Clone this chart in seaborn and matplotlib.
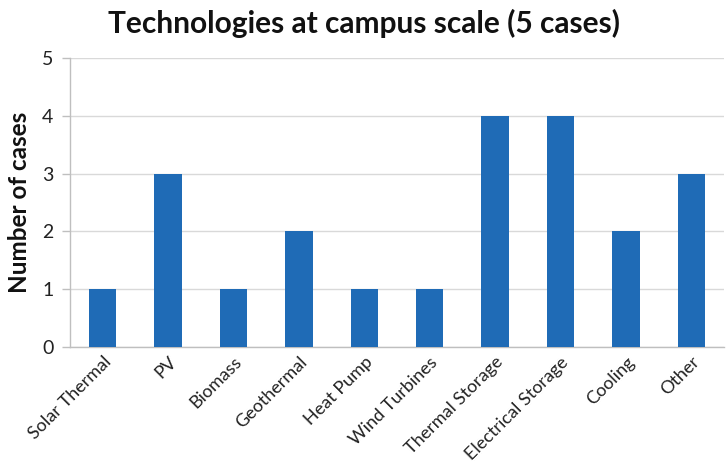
import matplotlib
matplotlib.use("Agg")
import matplotlib.pyplot as plt
import seaborn as sns
import pandas as pd

categories = ["Solar Thermal", "PV", "Biomass", "Geothermal", "Heat Pump",
              "Wind Turbines", "Thermal Storage", "Electrical Storage", "Cooling", "Other"]
cases = [1, 3, 1, 2, 1, 1, 4, 4, 2, 3]
y_ticks = [0, 1, 2, 3, 4, 5]

sns.set_theme(style="white")
plt.rcParams["font.family"] = ["Lato", "DejaVu Sans"]

df = pd.DataFrame({"Technology": categories, "Cases": cases})

fig = plt.figure(figsize=(7.27, 4.66), dpi=100)
ax = fig.add_axes([0.0963, 0.2554, 0.8996, 0.6201])

sns.barplot(data=df, x="Technology", y="Cases", color="#1f6bb6",
            width=0.42, saturation=1, linewidth=0, ax=ax, zorder=3)

ax.set_ylim(0, 5)
ax.set_xlim(-0.5, len(categories) - 0.5)
ax.set_yticks(y_ticks)
ax.set_yticklabels([str(t) for t in y_ticks], fontsize=14, color="#222222")
ax.grid(axis="y", color="#d9d9d9", linewidth=1, zorder=0)

for side in ["top", "right"]:
    ax.spines[side].set_visible(False)
for side in ["left", "bottom"]:
    ax.spines[side].set_color("#bfbfbf")
    ax.spines[side].set_linewidth(1)

# category labels at bar centres, tick marks on category boundaries
ax.set_xticks([i for i in range(len(categories))])
ax.set_xticklabels(categories, rotation=45, ha="right", rotation_mode="anchor",
                   fontsize=13, color="#222222")
ax.set_xticks([i - 0.5 for i in range(len(categories) + 1)], minor=True)
ax.tick_params(axis="x", which="major", length=0, pad=5)
ax.tick_params(axis="x", which="minor", length=6, color="#bfbfbf", width=1)
ax.tick_params(axis="y", which="major", length=6, color="#bfbfbf", width=1, left=True, pad=6)

ax.set_xlabel("")
ax.set_ylabel("Number of cases", fontsize=17.5, fontweight="bold", color="#111111", labelpad=8)
fig.suptitle("Technologies at campus scale (5 cases)", fontsize=21.5, fontweight="bold",
             color="#111111", y=0.98)

fig.savefig("out.png", dpi=100)
